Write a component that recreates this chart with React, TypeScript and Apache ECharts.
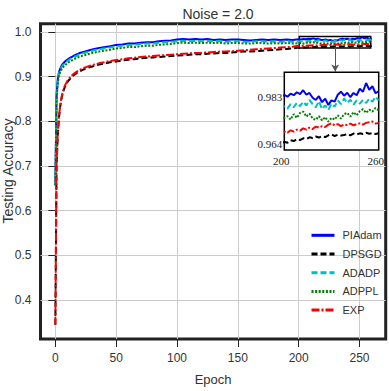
import React, { useEffect, useRef } from "react";
import * as echarts from "echarts";

const epochs = [
  0, 1, 2, 3, 4, 5, 6, 7, 8, 10, 12, 14, 16, 18, 20, 24, 28, 32, 36, 40,
  45, 50, 55, 60, 65, 70, 75, 80, 85, 90, 95, 100, 105, 110, 115, 120, 125, 130, 135, 140,
  145, 150, 155, 160, 165, 170, 175, 180, 185, 190, 195, 200,
  202, 204, 206, 208, 210, 212, 214, 216, 218, 220, 222, 224, 226, 228, 230,
  232, 234, 236, 238, 240, 242, 244, 246, 248, 250, 252, 254, 256, 258, 260,
];

const piadam = [
  0.657, 0.858, 0.895, 0.910, 0.918, 0.924, 0.928, 0.931, 0.934,
  0.938, 0.942, 0.945, 0.948, 0.950, 0.953,
  0.956, 0.959, 0.962, 0.964, 0.966,
  0.968, 0.971, 0.972, 0.974, 0.974, 0.976, 0.977, 0.977, 0.979, 0.980, 0.981, 0.983, 0.984, 0.983, 0.984, 0.983,
  0.984, 0.982, 0.983, 0.982, 0.983, 0.983, 0.982, 0.981, 0.982, 0.983, 0.982, 0.983, 0.982, 0.983, 0.982, 0.9837,
  0.9830, 0.9842, 0.9836, 0.9848, 0.9840, 0.9856, 0.9838, 0.9845, 0.9826, 0.9817, 0.9832, 0.9808, 0.9822, 0.9797, 0.9815,
  0.9810, 0.9838, 0.9850, 0.9834, 0.9846, 0.9828, 0.9845, 0.9836, 0.9862, 0.9850, 0.9885, 0.9858, 0.9872, 0.9844, 0.9852,
];

const dpsgd = [
  0.345, 0.700, 0.770, 0.808, 0.833, 0.850, 0.862, 0.871, 0.878,
  0.888, 0.895, 0.901, 0.905, 0.909, 0.912,
  0.917, 0.921, 0.924, 0.927, 0.929,
  0.932, 0.934, 0.936, 0.938, 0.939, 0.941, 0.942, 0.943, 0.944, 0.945, 0.946, 0.947, 0.948, 0.949, 0.950, 0.950,
  0.951, 0.952, 0.953, 0.953, 0.954, 0.955, 0.956, 0.956, 0.957, 0.958, 0.959, 0.960, 0.961, 0.962, 0.963, 0.9649,
  0.9645, 0.9655, 0.9652, 0.9660, 0.9656, 0.9663, 0.9660, 0.9667, 0.9664, 0.9670, 0.9666, 0.9672, 0.9668, 0.9675, 0.9679,
  0.9672, 0.9677, 0.9674, 0.9676, 0.9680, 0.9675, 0.9682, 0.9678, 0.9683, 0.9680, 0.9685, 0.9681, 0.9684, 0.9680, 0.9683,
];

const adadp = [
  0.657, 0.855, 0.892, 0.907, 0.915, 0.921, 0.925, 0.928, 0.931,
  0.935, 0.939, 0.942, 0.945, 0.947, 0.950,
  0.953, 0.956, 0.959, 0.961, 0.963,
  0.965, 0.968, 0.969, 0.971, 0.971, 0.973, 0.974, 0.974, 0.976, 0.977, 0.978, 0.979, 0.980, 0.979, 0.980, 0.979,
  0.980, 0.979, 0.980, 0.978, 0.979, 0.979, 0.978, 0.978, 0.979, 0.979, 0.978, 0.979, 0.978, 0.979, 0.978, 0.9790,
  0.9782, 0.9800, 0.9788, 0.9805, 0.9792, 0.9810, 0.9795, 0.9817, 0.9800, 0.9788, 0.9812, 0.9780, 0.9795, 0.9777, 0.9802,
  0.9790, 0.9815, 0.9800, 0.9823, 0.9805, 0.9818, 0.9798, 0.9815, 0.9802, 0.9817, 0.9805, 0.9822, 0.9810, 0.9830, 0.9815,
];

const adppl = [
  0.657, 0.848, 0.886, 0.902, 0.910, 0.916, 0.920, 0.923, 0.926,
  0.930, 0.934, 0.937, 0.940, 0.942, 0.945,
  0.948, 0.951, 0.954, 0.956, 0.958,
  0.960, 0.963, 0.964, 0.966, 0.966, 0.968, 0.969, 0.969, 0.971, 0.972, 0.973, 0.975, 0.976, 0.975, 0.976, 0.975,
  0.976, 0.975, 0.976, 0.974, 0.975, 0.975, 0.974, 0.974, 0.975, 0.975, 0.974, 0.975, 0.974, 0.975, 0.974, 0.9745,
  0.9752, 0.9738, 0.9760, 0.9745, 0.9765, 0.9770, 0.9750, 0.9762, 0.9742, 0.9737, 0.9752, 0.9735, 0.9748, 0.9730, 0.9745,
  0.9738, 0.9755, 0.9742, 0.9760, 0.9765, 0.9750, 0.9768, 0.9755, 0.9772, 0.9780, 0.9765, 0.9778, 0.9770, 0.9785, 0.9775,
];

const exp = [
  0.345, 0.705, 0.775, 0.812, 0.836, 0.853, 0.865, 0.874, 0.881,
  0.891, 0.898, 0.904, 0.908, 0.912, 0.915,
  0.920, 0.924, 0.927, 0.930, 0.932,
  0.935, 0.937, 0.939, 0.941, 0.942, 0.944, 0.945, 0.946, 0.947, 0.948, 0.949, 0.950, 0.951, 0.952, 0.953, 0.953,
  0.954, 0.955, 0.956, 0.956, 0.957, 0.958, 0.959, 0.960, 0.961, 0.962, 0.963, 0.964, 0.965, 0.966, 0.967, 0.9690,
  0.9685, 0.9695, 0.9690, 0.9698, 0.9694, 0.9703, 0.9698, 0.9706, 0.9700, 0.9710, 0.9706, 0.9712, 0.9708, 0.9718, 0.9723,
  0.9715, 0.9720, 0.9712, 0.9718, 0.9716, 0.9722, 0.9715, 0.9720, 0.9723, 0.9718, 0.9725, 0.9728, 0.9730, 0.9722, 0.9725,
];

const seriesNames = ["PIAdam", "DPSGD", "ADADP", "ADPPL", "EXP"];
const xTicks = [0, 50, 100, 150, 200, 250];
const yTicks = [0.4, 0.5, 0.6, 0.7, 0.8, 0.9, 1.0];
const insetXTicks = [200, 260];
const insetYTicks = [0.964, 0.983];

const SANS = "'Liberation Sans', Arial, sans-serif";
const SERIF = "'Liberation Serif', 'Times New Roman', serif";

export default function App() {
  const ref = useRef<HTMLDivElement>(null);

  useEffect(() => {
    if (!ref.current) return;
    const chart = echarts.init(ref.current, null, { renderer: "svg" });

    const values = [piadam, dpsgd, adadp, adppl, exp];
    const styles = [
      { color: "#0000ff", width: 2, type: "solid" as any },
      { color: "#000000", width: 2, type: [6, 3] },
      { color: "#00bfbf", width: 2, type: [6, 3] },
      { color: "#008000", width: 2, type: [2, 1.6] },
      { color: "#ff0000", width: 2, type: [8, 2, 2, 2] },
    ];
    const pairs = (arr: number[]) => epochs.map((e, i) => [e, arr[i]]);

    const mainSeries = seriesNames.map((name, k) => ({
      name,
      type: "line",
      xAxisIndex: 0,
      yAxisIndex: 0,
      symbol: "none",
      showSymbol: false,
      data: pairs(values[k]),
      lineStyle: styles[k],
      itemStyle: { color: styles[k].color },
      z: 2 + k,
      ...(k === 4
        ? {
            markArea: {
              silent: true,
              itemStyle: { color: "rgba(0,0,0,0)", borderColor: "#000", borderWidth: 1.5 },
              data: [[{ coord: [200.5, 0.9639] }, { coord: [259.2, 0.9896] }]],
            },
            markLine: {
              silent: true,
              symbol: ["none", "arrow"],
              symbolSize: [6, 7],
              label: { show: false },
              lineStyle: { color: "#555", width: 1, type: "solid" },
              data: [[{ coord: [230, 0.9635] }, { coord: [230, 0.9113] }]],
            },
          }
        : {}),
    }));

    const insetSeries = seriesNames.map((name, k) => ({
      name,
      type: "line",
      xAxisIndex: 1,
      yAxisIndex: 1,
      symbol: "none",
      showSymbol: false,
      data: pairs(values[k]),
      lineStyle: styles[k],
      itemStyle: { color: styles[k].color },
      z: 20 + k,
    }));

    chart.setOption({
      animation: false,
      title: {
        text: "Noise = 2.0",
        left: 213,
        top: 2,
        textAlign: "center",
        textStyle: { fontFamily: SANS, fontSize: 14, fontWeight: "normal", color: "#333" },
      },
      grid: [
        {
          left: 40.5,
          right: 3.3,
          top: 23.7,
          bottom: 49,
          show: true,
          borderColor: "#222",
          borderWidth: 3,
        },
        {
          left: 284.3,
          top: 72.3,
          width: 94.4,
          height: 77.7,
          show: true,
          backgroundColor: "#fff",
          borderColor: "#000",
          borderWidth: 1.5,
          z: 10,
        },
      ],
      xAxis: [
        {
          type: "value",
          gridIndex: 0,
          min: -12.2,
          max: 271.5,
          name: "Epoch",
          nameLocation: "middle",
          nameGap: 34,
          nameTextStyle: { fontFamily: SANS, fontSize: 13, color: "#333" },
          axisLine: { show: false },
          axisTick: { show: true, length: 8, customValues: xTicks, lineStyle: { color: "#222", width: 1 } },
          axisLabel: {
            customValues: xTicks,
            margin: 13,
            fontFamily: SANS,
            fontSize: 12,
            color: "#333",
          },
          splitLine: { show: true, lineStyle: { color: "#cccccc", width: 1 } },
        },
        {
          type: "value",
          gridIndex: 1,
          min: 200,
          max: 260,
          axisLine: { show: false },
          axisTick: { show: false },
          axisLabel: {
            customValues: insetXTicks,
            margin: 5,
            fontFamily: SERIF,
            fontSize: 11,
            color: "#222",
            padding: [0, 6, 0, 0],
          },
          splitLine: { show: false },
        },
      ],
      yAxis: [
        {
          type: "value",
          gridIndex: 0,
          min: 0.313,
          max: 1.0184,
          axisLine: { show: false },
          axisTick: { show: true, length: 7, customValues: yTicks, lineStyle: { color: "#222", width: 1 } },
          axisLabel: {
            customValues: yTicks,
            margin: 9,
            fontFamily: SANS,
            fontSize: 12,
            color: "#333",
            formatter: (v: number) => v.toFixed(1),
          },
          splitLine: { show: true, lineStyle: { color: "#cccccc", width: 1 } },
        },
        {
          type: "value",
          gridIndex: 1,
          min: 0.9616,
          max: 0.9928,
          axisLine: { show: false },
          axisTick: { show: false },
          axisLabel: {
            customValues: insetYTicks,
            margin: 2,
            fontFamily: SERIF,
            fontSize: 11,
            color: "#222",
            formatter: (v: number) => v.toFixed(3),
          },
          splitLine: { show: false },
        },
      ],
      legend: {
        data: seriesNames,
        orient: "vertical",
        left: 310,
        top: 229.7,
        padding: 0,
        itemWidth: 23,
        itemHeight: 14,
        itemGap: 7.5,
        itemStyle: { opacity: 0 },
        lineStyle: { width: 3 },
        textStyle: { fontFamily: SANS, fontSize: 11, color: "#333", padding: [0, 0, 0, 3] },
      },
      graphic: [
        {
          type: "text",
          x: 8,
          y: 171,
          rotation: Math.PI / 2,
          style: {
            text: "Testing Accuracy",
            font: "14px 'Liberation Sans', Arial, sans-serif",
            fill: "#333",
            align: "center",
            verticalAlign: "middle",
          },
        },
      ],
      series: [...mainSeries, ...insetSeries],
    });

    return () => chart.dispose();
  }, []);

  return <div ref={ref} style={{ width: 389, height: 391, position: "absolute", left: 0, top: 0 }} />;
}
